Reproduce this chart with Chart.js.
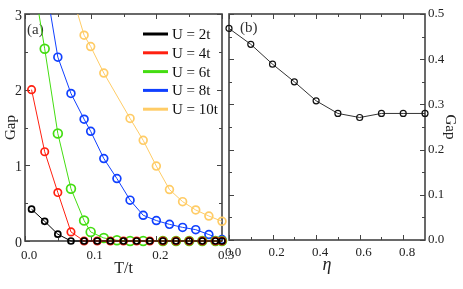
<!DOCTYPE html>
<html><head><meta charset="utf-8">
<script src="https://cdn.jsdelivr.net/npm/chart.js@4/dist/chart.umd.min.js"></script>
<style>
html,body{margin:0;padding:0;background:#fff;width:463px;height:289px;overflow:hidden}
#wa{position:absolute;left:0;top:0;width:240px;height:289px}
#wb{position:absolute;left:222px;top:0;width:241px;height:289px}
</style></head><body>
<div id="wb"><canvas id="cb" width="241" height="289"></canvas></div>
<div id="wa"><canvas id="ca" width="240" height="289"></canvas></div>
<script>
// ---------- data, panel (a) ----------
const T_LOW = [0.01,0.03,0.05,0.07,0.09,0.11,0.13,0.15,0.17,0.19,0.21,0.23,0.25,0.27,0.29,0.30];
const GAP_U2 = [0.42,0.26,0.09,0,0,0,0,0,0,0,0,0,0,0,0,0];
const GAP_U4 = [2.0,1.18,0.64,0.12,0,0,0,0,0,0,0,0,0,0,0,0];
const T_U6 = [0.01,0.03,0.05,0.07,0.09,0.10,0.12,0.14,0.16,0.18,0.21,0.23,0.25,0.27,0.29,0.30];
const GAP_U6 = [3.59,2.54,1.42,0.69,0.27,0.12,0.04,0.01,0,0,0,0,0,0,0,0];
const T_U8 = [0.03,0.05,0.07,0.09,0.10,0.12,0.14,0.16,0.18,0.20,0.22,0.24,0.26,0.28,0.30];
const GAP_U8 = [3.47,2.43,1.95,1.61,1.45,1.09,0.825,0.54,0.34,0.27,0.22,0.18,0.15,0.085,0.02];
const T_U10 = [0.07,0.09,0.10,0.12,0.16,0.18,0.20,0.22,0.24,0.26,0.28,0.30];
const GAP_U10 = [3.3,2.72,2.57,2.22,1.62,1.33,0.99,0.68,0.52,0.41,0.33,0.26];
const SERIES_LABELS = ['U = 2t','U = 4t','U = 6t','U = 8t','U = 10t'];
const X_TICKS_A = [0.0,0.1,0.2,0.3];
const X_MINOR_A = [0.05,0.15,0.25];
const Y_TICKS_A = [0,1,2,3];
const Y_MINOR_A = [0.5,1.5,2.5];
// ---------- data, panel (b) ----------
const ETA = [0.0,0.1,0.2,0.3,0.4,0.5,0.6,0.7,0.8,0.9];
const GAP_ETA = [0.468,0.433,0.389,0.350,0.308,0.280,0.271,0.280,0.280,0.280];
const X_TICKS_B = [0.0,0.2,0.4,0.6,0.8];
const X_MINOR_B = [0.1,0.3,0.5,0.7];
const Y_TICKS_B = [0.0,0.1,0.2,0.3,0.4,0.5];
const Y_MINOR_B = [0.05,0.15,0.25,0.35,0.45];

const COLORS = ['#000000','#ff2010','#44dd11','#1040ff','#ffcc66'];
const RADII = [3,3.7,4.4,3.9,3.9];
const SERIF = "'Liberation Serif','DejaVu Serif',serif";
const TICK_COLOR = '#222';

function pts(xs, ys){ return xs.map((x,i)=>({x:x,y:ys[i]})); }

const framePlugin = {
  id:'frame',
  beforeDatasetsDraw(chart, args, o){
    const {ctx, chartArea:a, scales:{x,y}} = chart;
    ctx.save();
    ctx.strokeStyle = '#444';
    ctx.lineWidth = 1;
    const tick = (vals, len, isX) => {
      for (const v of vals){
        ctx.beginPath();
        if (isX){
          const p = Math.round(x.getPixelForValue(v))+0.5;
          ctx.moveTo(p,a.bottom); ctx.lineTo(p,a.bottom-len);
          ctx.moveTo(p,a.top); ctx.lineTo(p,a.top+len);
        } else {
          const p = Math.round(y.getPixelForValue(v))+0.5;
          ctx.moveTo(a.left,p); ctx.lineTo(a.left+len,p);
          ctx.moveTo(a.right,p); ctx.lineTo(a.right-len,p);
        }
        ctx.stroke();
      }
    };
    tick(o.xMajor,5,true); tick(o.xMinor,3,true);
    tick(o.yMajor,5,false); tick(o.yMinor,3,false);
    ctx.lineWidth = 1.6;
    ctx.strokeRect(a.left,a.top,a.right-a.left,a.bottom-a.top);
    ctx.fillStyle = '#333';
    ctx.font = '15px ' + SERIF;
    ctx.textBaseline = 'middle';
    ctx.textAlign = 'left';
    ctx.fillText(o.tag, a.left + o.tagDx, a.top + o.tagDy);
    ctx.restore();
  }
};

const legendPlugin = {
  id:'inlegend',
  afterDraw(chart, args, o){
    if (!o.show) return;
    const {ctx} = chart;
    ctx.save();
    chart.data.datasets.forEach((d,i)=>{
      const yy = o.y0 + i*o.dy;
      ctx.strokeStyle = d.borderColor;
      ctx.lineWidth = 3;
      ctx.beginPath(); ctx.moveTo(o.x0,yy); ctx.lineTo(o.x0+25,yy); ctx.stroke();
      ctx.fillStyle = '#111';
      ctx.font = '15px ' + SERIF;
      ctx.textBaseline = 'middle';
      ctx.textAlign = 'left';
      ctx.fillText(d.label, o.x0+29, yy+1);
    });
    ctx.restore();
  }
};

function ds(i, xs, ys){
  const color = COLORS[i];
  return {label:SERIES_LABELS[i], data:pts(xs,ys), borderColor:color, backgroundColor:'rgba(0,0,0,0)',
    borderWidth:1, pointRadius:RADII[i], pointBorderWidth:1.7, pointBorderColor:color,
    pointBackgroundColor:'rgba(0,0,0,0)', tension:0, clip:{left:10,right:10,bottom:10,top:0}};
}

function fixX(h){ return s=>{ s.height = h; s.paddingLeft = 0; s.paddingRight = 0; }; }
function fixY(w){ return s=>{ s.width = w; s.paddingTop = 0; s.paddingBottom = 0; }; }

new Chart(document.getElementById('ca'), {
  type:'line',
  data:{datasets:[
    ds(0, T_LOW, GAP_U2),
    ds(1, T_LOW, GAP_U4),
    ds(2, T_U6, GAP_U6),
    ds(3, T_U8, GAP_U8),
    ds(4, T_U10, GAP_U10)
  ]},
  options:{
    responsive:false, animation:false, devicePixelRatio:1,
    layout:{padding:{left:0,right:18,top:14,bottom:0}},
    plugins:{legend:{display:false}, tooltip:{enabled:false},
      frame:{xMajor:X_TICKS_A, xMinor:X_MINOR_A, yMajor:Y_TICKS_A, yMinor:Y_MINOR_A, tag:'(a)', tagDx:2, tagDy:16},
      inlegend:{show:true, x0:143, y0:34, dy:18.8}},
    scales:{
      x:{type:'linear', min:0, max:0.3,
        afterBuildTicks:s=>{s.ticks = X_TICKS_A.map(v=>({value:v}));},
        afterFit:fixX(48),
        grid:{display:false, drawTicks:false}, border:{display:false},
        ticks:{callback:v=>Number(v).toFixed(1), font:{family:SERIF,size:13}, color:TICK_COLOR, padding:7, labelOffset:4, maxRotation:0, autoSkip:false},
        title:{display:true, text:'T/t', font:{family:SERIF,size:16}, color:'#222', padding:{top:0,bottom:11}}},
      y:{type:'linear', min:0, max:3,
        afterBuildTicks:s=>{s.ticks = Y_TICKS_A.map(v=>({value:v}));},
        afterFit:fixY(25),
        grid:{display:false, drawTicks:false}, border:{display:false},
        ticks:{callback:v=>String(v), font:{family:SERIF,size:14}, color:TICK_COLOR, padding:3, labelOffset:2},
        title:{display:true, text:'Gap', font:{family:SERIF,size:15}, color:'#222', padding:{top:2,bottom:0}}}
    }
  },
  plugins:[framePlugin, legendPlugin]
});

new Chart(document.getElementById('cb'), {
  type:'line',
  data:{datasets:[{label:'gap', data:pts(ETA,GAP_ETA), borderColor:'#333', backgroundColor:'rgba(0,0,0,0)',
    borderWidth:1, pointRadius:3, pointBorderWidth:1.2, pointBorderColor:'#111', pointBackgroundColor:'rgba(0,0,0,0)', clip:10}]},
  options:{
    responsive:false, animation:false, devicePixelRatio:1,
    layout:{padding:{left:7,right:0,top:14,bottom:0}},
    plugins:{legend:{display:false}, tooltip:{enabled:false},
      frame:{xMajor:X_TICKS_B, xMinor:X_MINOR_B, yMajor:Y_TICKS_B, yMinor:Y_MINOR_B, tag:'(b)', tagDx:11, tagDy:14},
      inlegend:{show:false}},
    scales:{
      x:{type:'linear', min:0, max:0.9,
        afterBuildTicks:s=>{s.ticks = X_TICKS_B.map(v=>({value:v}));},
        afterFit:fixX(49),
        grid:{display:false, drawTicks:false}, border:{display:false},
        ticks:{callback:v=>Number(v).toFixed(1), font:{family:SERIF,size:13}, color:TICK_COLOR, padding:5, labelOffset:4, maxRotation:0, autoSkip:false},
        title:{display:true, text:'η', font:{family:SERIF,size:18,style:'italic'}, color:'#222', padding:{top:0,bottom:13}}},
      y:{type:'linear', position:'right', min:0, max:0.5,
        afterBuildTicks:s=>{s.ticks = Y_TICKS_B.map(v=>({value:v}));},
        afterFit:fixY(38),
        grid:{display:false, drawTicks:false}, border:{display:false},
        ticks:{callback:v=>Number(v).toFixed(1), font:{family:SERIF,size:13}, color:TICK_COLOR, padding:3},
        title:{display:true, text:'Gap', font:{family:SERIF,size:15}, color:'#222', padding:{top:4,bottom:0}}}
    }
  },
  plugins:[framePlugin, legendPlugin]
});
</script>
</body></html>
